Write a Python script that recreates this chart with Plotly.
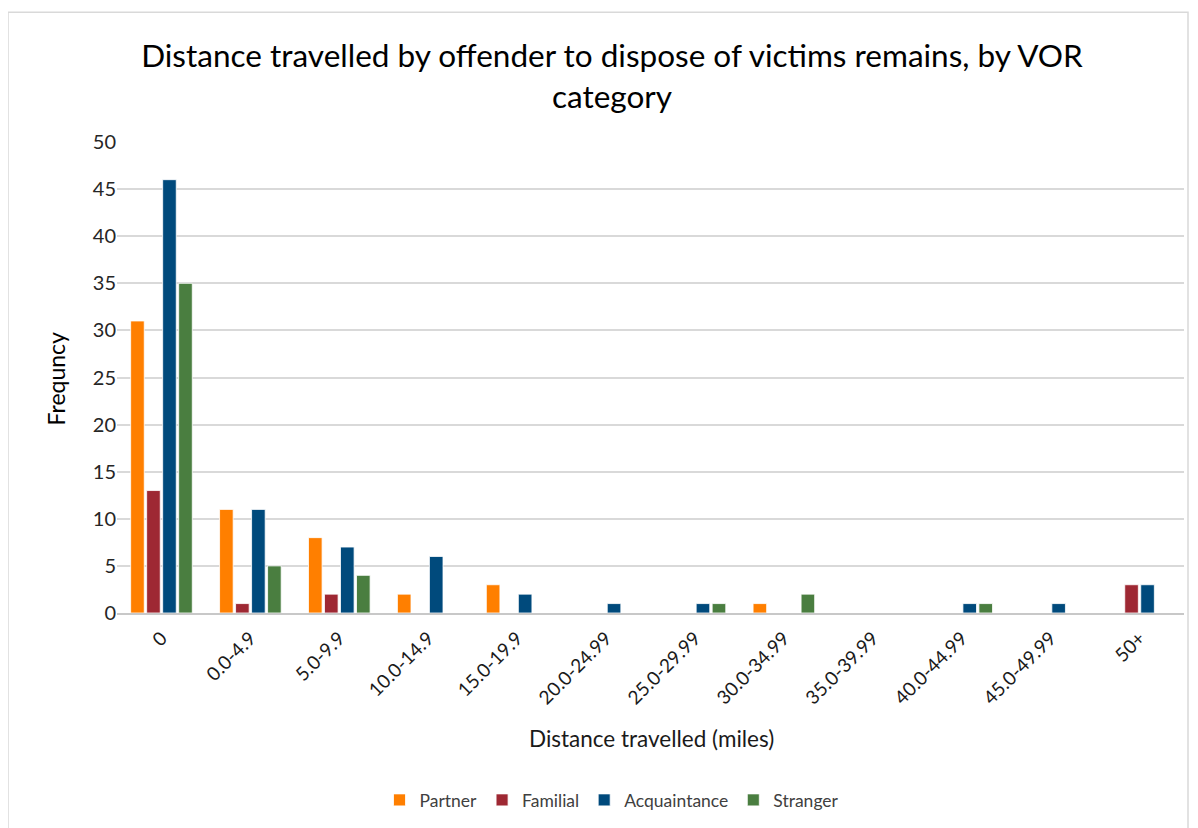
import plotly.graph_objects as go

categories = ["0", "0.0-4.9", "5.0-9.9", "10.0-14.9", "15.0-19.9", "20.0-24.99",
              "25.0-29.99", "30.0-34.99", "35.0-39.99", "40.0-44.99", "45.0-49.99", "50+"]
partner = [31, 11, 8, 2, 3, 0, 0, 1, 0, 0, 0, 0]
familial = [13, 1, 2, 0, 0, 0, 0, 0, 0, 0, 0, 3]
acquaintance = [46, 11, 7, 6, 2, 1, 1, 0, 0, 1, 1, 3]
stranger = [35, 5, 4, 0, 0, 0, 1, 2, 0, 1, 0, 0]

series = [
    ("Partner", partner, "#FF7F00"),
    ("Familial", familial, "#9E2833"),
    ("Acquaintance", acquaintance, "#004A7C"),
    ("Stranger", stranger, "#4A7E40"),
]

FONT = "Lato, 'Open Sans', sans-serif"

fig = go.Figure()
for name, vals, col in series:
    fig.add_trace(go.Bar(
        name=name, x=categories, y=vals,
        marker=dict(color=col, line=dict(color="white", width=0.8)),
    ))

OFF = 8  # page body margin
W, H = 1198 - OFF, 828 - OFF
L, R, T, B = 117 - OFF, 1184 - OFF, 142 - OFF, 614 - OFF
pw, ph = R - L, B - T

def px(x):
    return (x - OFF - L) / pw

def py(y):
    return (B - (y - OFF)) / ph

fig.update_layout(
    width=W, height=H,
    margin=dict(l=L, r=W - R, t=T, b=H - B),
    paper_bgcolor="white", plot_bgcolor="white",
    font=dict(family=FONT, color="#404040"),
    barmode="group", bargap=0.28, bargroupgap=0.15,
    title=dict(
        text="Distance travelled by offender to dispose of victims remains, by VOR<br>category",
        xref="paper", x=px(612), xanchor="center",
        yref="container", y=1 - (67 - OFF) / H, yanchor="middle",
        font=dict(size=31.5, color="#000000", family=FONT),
    ),
    showlegend=True,
    legend=dict(orientation="h", x=px(612), xanchor="center", y=py(800), yanchor="middle",
                font=dict(size=17.5, color="#404040", family=FONT), traceorder="normal",
                itemwidth=30, bgcolor="rgba(0,0,0,0)"),
    xaxis=dict(
        type="category", tickangle=-45, showgrid=False, showline=True,
        linecolor="#c8c8c8", linewidth=1.5, ticks="", ticklabelstandoff=5,
        tickfont=dict(size=19, color="#1a1a1a", family=FONT),
    ),
    yaxis=dict(
        range=[0, 50], dtick=5, showgrid=True, gridcolor="#d9d9d9", gridwidth=1.5,
        zeroline=False, showline=False, ticks="",
        tickfont=dict(size=20, color="#262626", family=FONT),
    ),
    shapes=[dict(type="rect", xref="paper", yref="paper",
                 x0=px(8), x1=px(1188), y0=py(840), y1=py(12),
                 line=dict(color="#d9d9d9", width=1.5), layer="below")],
    annotations=[
        dict(text="Distance travelled (miles)", x=px(651), y=py(740), xref="paper", yref="paper",
             showarrow=False, xanchor="center", yanchor="middle",
             font=dict(size=22.5, color="#1a1a1a", family=FONT)),
        dict(text="Frequncy", x=px(56), y=py(379), xref="paper", yref="paper",
             showarrow=False, textangle=-90, xanchor="center", yanchor="middle",
             font=dict(size=23, color="#000000", family=FONT)),
    ],
)

fig.write_html("out.html")
